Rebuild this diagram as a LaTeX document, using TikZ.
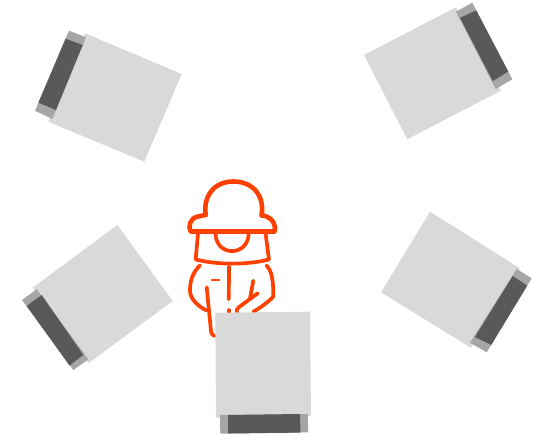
\documentclass[tikz,border=0pt]{standalone}
\definecolor{lightq}{HTML}{D9D9D9}
\definecolor{midq}{HTML}{A6A6A6}
\definecolor{darkq}{HTML}{595959}
\definecolor{worker}{HTML}{FF4000}
\tikzset{
  plate/.style={fill=lightq,draw=none},
  rail/.style={fill=midq,draw=none},
  core/.style={fill=darkq,draw=none},
  person/.style={draw=worker,line width=3.7pt,line cap=round,line join=round,fill=none}
}
\begin{document}
\begin{tikzpicture}[x=1pt,y=-1pt]
\useasboundingbox (0,0) rectangle (538,439);
% worker
\draw[person,line width=4.6pt] (190.5,231.5) .. controls (188,226) and (190,218) .. (198,216.5) .. controls (200,216) and (203,215.5) .. (205.7,215)
  .. controls (203,196) and (214,181.5) .. (233.5,181.5) .. controls (253,181.5) and (265,196) .. (261.5,215.5)
  .. controls (264,215.5) and (266,216) .. (267,216.8) .. controls (272.5,218.5) and (276.5,226) .. (274.5,231.5) -- cycle;
\draw[person] (198,233) -- (195.7,259.5) .. controls (218,265) and (247,265) .. (269,259.5) -- (265.5,233);
\draw[person] (215.5,233.5) .. controls (216,257) and (248,257) .. (248.7,233.5);
\draw[person] (200,265.5) .. controls (194,271) and (190,279) .. (190,290) .. controls (189.5,299) and (199,307) .. (206.7,310.5);
\draw[person] (266.5,265.5) .. controls (271,270) and (273.5,278) .. (273.3,296.7) .. controls (267,303) and (260,308) .. (253.3,311.7);
\draw[person] (206.7,287.3) -- (210.8,329) .. controls (211,333) and (212,335.5) .. (214.5,336);
\draw[person] (229,266.5) -- (228.8,299.3);
\draw[person] (228.8,310) -- (228.8,313);
\draw[person,line width=2.6pt] (212,280) -- (219,280);
\draw[person] (253.3,280.7) -- (250,298.3);
\draw[person] (257.7,293.3) -- (238.5,307.5) .. controls (236.5,309) and (236.3,311) .. (237,313);
% bottom box
\fill[plate] (215.3,312.7) -- (310,311.7) -- (311,416) -- (216,417.7) -- cycle;
\fill[rail] (220,415) -- (307.7,414) -- (308.3,432.3) -- (220.3,433.7) -- cycle;
\fill[core] (228,415) -- (300,414) -- (300.5,432.6) -- (228,433.5) -- cycle;
% lower left box
\fill[plate] (117.3,225) -- (172.7,301) -- (88.3,363.3) -- (32.7,287.7) -- cycle;
\fill[rail] (22,300) -- (36.7,289.3) -- (88.3,359.3) -- (73.3,370) -- cycle;
\fill[core] (26.7,306) -- (41.7,295) -- (83.3,355) -- (69.5,365.5) -- cycle;
% upper left box
\fill[plate] (85,33.3) -- (181.7,74) -- (144.3,161.7) -- (48.3,121.7) -- cycle;
\fill[rail] (69,30.7) -- (86,37.3) -- (52.3,119) -- (35,110.7) -- cycle;
\fill[core] (65.6,38.7) -- (82.7,45) -- (56,110) -- (38.4,102.7) -- cycle;
% upper right box
\fill[plate] (456,7.3) -- (500.7,90.7) -- (407.3,139.3) -- (364,55) -- cycle;
\fill[rail] (472.3,2.7) -- (512.3,79.3) -- (495.7,89) -- (456,11.7) -- cycle;
\fill[core] (476.3,10.4) -- (508.3,71.6) -- (492.7,81) -- (460,17.8) -- cycle;
% lower right box
\fill[plate] (430,211.7) -- (520,268.3) -- (470.7,347.7) -- (381,292.3) -- cycle;
\fill[rail] (516.7,269) -- (531.7,278.3) -- (486.7,352.3) -- (470,342.7) -- cycle;
\fill[core] (512.7,276) -- (527.2,285.7) -- (491.2,344.9) -- (475,337) -- cycle;
\end{tikzpicture}
\end{document}
